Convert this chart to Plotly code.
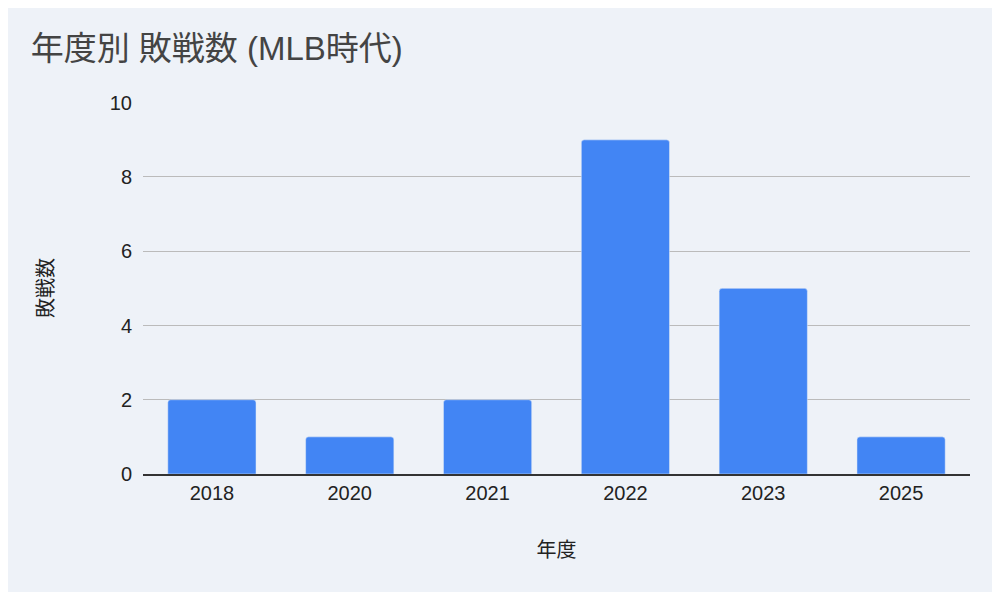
import plotly.graph_objects as go

years = ["2018", "2020", "2021", "2022", "2023", "2025"]
losses = [2, 1, 2, 9, 5, 1]

fig = go.Figure(go.Bar(x=years, y=losses, marker_color="#4285f4", marker_cornerradius=3))
font = "'Liberation Sans', Arial, 'Noto Sans CJK JP', sans-serif"
fig.update_layout(
    width=984, height=584,
    paper_bgcolor="#eef2f8", plot_bgcolor="#eef2f8",
    margin=dict(l=135, r=22, t=94, b=118),
    bargap=0.36,
    font=dict(family=font, color="#222", size=20),
    title=dict(text="年度別 敗戦数 (MLB時代)", x=0.023, xanchor="left", y=0.93, yanchor="middle",
               font=dict(size=33, color="#444", family=font)),
    xaxis=dict(title=dict(text="年度", standoff=40, font=dict(size=20)), showline=True,
               linecolor="#333", linewidth=1.5, tickfont=dict(size=20)),
    yaxis=dict(title=dict(text="敗戦数", standoff=50, font=dict(size=20)), range=[0, 10.02],
               tickvals=[0, 2, 4, 6, 8, 10],
               gridcolor="#bbbbbb", zeroline=False, tickfont=dict(size=20), ticklabelstandoff=10),
)
fig.write_html("out.html")
